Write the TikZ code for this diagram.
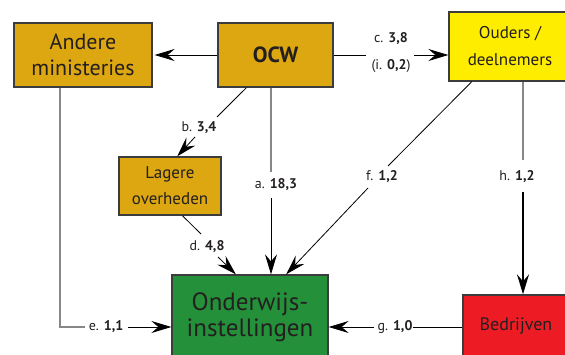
\documentclass[tikz,border=0pt]{standalone}
\usepackage{fontspec}
\setmainfont{PT Sans}
\usetikzlibrary{arrows.meta,calc}
\definecolor{gold}{RGB}{220,167,17}
\definecolor{yel}{RGB}{255,237,0}
\definecolor{grn}{RGB}{36,145,58}
\definecolor{rd}{RGB}{237,28,36}
\definecolor{edge}{RGB}{60,60,60}
\definecolor{ink}{RGB}{35,31,32}
\definecolor{lgray}{RGB}{135,135,135}
\begin{document}
\begin{tikzpicture}[x=1pt,y=-1pt,
  box/.style={draw=edge,line width=1.3pt,align=center,text=ink,inner sep=0pt},
  lbl/.style={font=\fontsize{14}{27}\selectfont,text=ink,inner sep=0pt,align=center},
  tip/.style={-{Stealth[length=20pt,width=12pt,inset=7pt]}},
  blk/.style={draw=black,line width=0.8pt},
  gry/.style={draw=lgray,line width=1.4pt},
]
\useasboundingbox (0,0) rectangle (565,355);
\clip (0,0) rectangle (565,355);

% boxes
\node[box,fill=gold,minimum width=138pt,minimum height=64pt,font=\fontsize{22}{26}\selectfont] (andere) at (83,55) {Andere\\ministeries};
\node[box,fill=gold,minimum width=115pt,minimum height=64pt,font=\fontsize{22}{26}\selectfont\bfseries] (ocw) at (275.5,55) {OCW};
\node[box,fill=yel,minimum width=122pt,minimum height=69pt,font=\fontsize{17}{27}\selectfont] (ouders) at (510,46.5) {Ouders /\\deelnemers};
\node[box,fill=gold,minimum width=102pt,minimum height=58pt,font=\fontsize{17}{26}\selectfont] (lagere) at (170,186) {Lagere\\overheden};
\node[box,fill=grn,minimum width=156pt,minimum height=84pt,font=\fontsize{25}{26}\selectfont] (onderwijs) at (250,317) {Onderwijs-\\instellingen};
\node[box,fill=rd,minimum width=106pt,minimum height=64pt,font=\fontsize{18}{22}\selectfont] (bedr) at (516,327) {\raisebox{5pt}{Bedrijven}};

% labels
\node[lbl] (lc) at (391,39) {c. \textbf{3,8}};
\node[lbl] (li) at (391,66) {(i. \textbf{0,2})};
\node[lbl] (lb) at (199,128) {b. \textbf{3,4}};
\node[lbl] (la) at (276,185) {a. \textbf{18,3}};
\node[lbl] (lf) at (382,177) {f. \textbf{1,2}};
\node[lbl] (lh) at (517,177) {h. \textbf{1,2}};
\node[lbl] (ld) at (207,247) {d. \textbf{4,8}};
\node[lbl] (le) at (106,327) {e. \textbf{1,1}};
\node[lbl] (lg) at (395,327) {g. \textbf{1,0}};

% gap coordinates
\coordinate (c1) at (366,55);
\coordinate (c2) at (414,55);
\coordinate (b1) at (217,117);
\coordinate (b2) at (195,137);
\coordinate (a1) at (271,172);
\coordinate (a2) at (271,198);
\coordinate (f1) at (388,166);
\coordinate (f2) at (368,188);
\coordinate (h1) at (523,160);
\coordinate (h2) at (523,192);
\coordinate (d1) at (201,234);
\coordinate (d2) at (218,257);
\coordinate (ec) at (60,327);
\coordinate (e1) at (85,327);
\coordinate (e2) at (128,327);
\coordinate (g1) at (413,327);
\coordinate (g2) at (374,327);

% connectors
\draw[blk,tip,shorten >=2pt] (ocw.west) -- (andere.east);
\draw[blk] (ocw.east) -- (c1);
\draw[blk,tip] (c2) -- (c2 -| ouders.west);
\draw[blk] ($(ocw.south west)!.25!(ocw.south east)$) -- (b1);
\draw[blk,tip] (b2) -- ($(lagere.north west)!.57!(lagere.north east)$);
\draw[gry,line width=1.1pt] (a1 |- ocw.south) -- (a1);
\draw[blk,tip] (a2) -- (a2 |- onderwijs.north);
\draw[blk] ($(ouders.south west)!.19!(ouders.south east)$) -- (f1);
\draw[blk,tip] (f2) -- ($(onderwijs.north west)!.73!(onderwijs.north east)$);
\draw[gry,line width=1.1pt] (h1 |- ouders.south) -- (h1);
\draw[draw=black,line width=2pt,tip] (h2) -- (h2 |- bedr.north);
\draw[blk] ($(lagere.south west)!.62!(lagere.south east)$) -- (d1);
\draw[blk,tip] (d2) -- ($(onderwijs.north west)!.41!(onderwijs.north east)$);
\draw[gry] (ec |- andere.south) -- (ec) -- (e1);
\draw[blk,tip] (e2) -- (e2 -| onderwijs.west);
\draw[blk] (g1 -| bedr.west) -- (g1);
\draw[blk,tip] (g2) -- (g2 -| onderwijs.east);
\end{tikzpicture}
\end{document}
